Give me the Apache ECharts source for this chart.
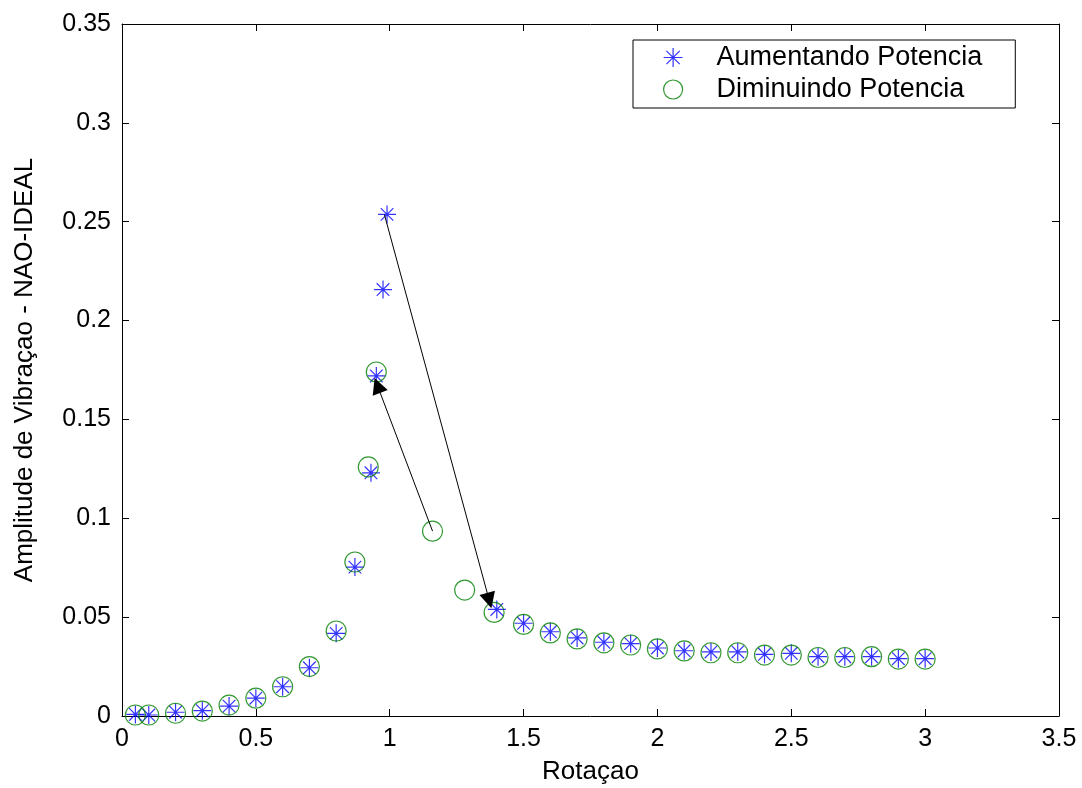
<!DOCTYPE html>
<html><head><meta charset="utf-8">
<script src="https://cdn.jsdelivr.net/npm/echarts@6/dist/echarts.min.js"></script>
<style>html,body{margin:0;padding:0;background:#fff}#c{width:1082px;height:788px}</style>
</head><body><div id="c"></div>
<script>
const xTitle = 'Rotaçao';
const yTitle = 'Amplitude de Vibraçao - NAO-IDEAL';
const seriesNames = ['Aumentando Potencia', 'Diminuindo Potencia'];

const upX = [0.05,0.1,0.2,0.3,0.4,0.5,0.6,0.7,0.8,0.87,0.93,0.95,0.975,0.99,1.4,1.5,1.6,1.7,1.8,1.9,2.0,2.1,2.2,2.3,2.4,2.5,2.6,2.7,2.8,2.9,3.0];
const upY = [0.0008,0.0005,0.0019,0.0027,0.005,0.009,0.0148,0.0244,0.0418,0.0753,0.123,0.172,0.2157,0.2537,0.0539,0.0469,0.0426,0.0395,0.0373,0.0366,0.0344,0.033,0.0324,0.0324,0.0312,0.0317,0.030,0.030,0.030,0.029,0.029];

const downX = [0.05,0.1,0.2,0.3,0.4,0.5,0.6,0.7,0.8,0.87,0.92,0.95,1.16,1.28,1.39,1.5,1.6,1.7,1.8,1.9,2.0,2.1,2.2,2.3,2.4,2.5,2.6,2.7,2.8,2.9,3.0];
const downY = [0.0005,0.0005,0.0014,0.0025,0.0055,0.009,0.0148,0.025,0.043,0.0779,0.126,0.174,0.0935,0.0637,0.0524,0.0463,0.042,0.039,0.037,0.0359,0.0339,0.0329,0.032,0.032,0.0308,0.0308,0.0296,0.0296,0.030,0.0288,0.0288];

// arrow start point and arrow-head centre, in data units
const arrows = [
  [[0.98,0.2537],[1.372,0.0584]],
  [[1.16,0.0935],[0.954,0.1672]]
];

const xMin = 0, xMax = 3.5, xStep = 0.5;
const yMin = 0, yMax = 0.35, yStep = 0.05;

const font = 'Liberation Sans, Arial, sans-serif';
const starPath = 'path://M0,-10L0,10M-10,0L10,0M-7,-7L7,7M-7,7L7,-7';

const chart = echarts.init(document.getElementById('c'));
function axisCommon() {
  return {
    axisLine: {show: true, onZero: false, lineStyle: {color: '#000', width: 1}},
    axisTick: {show: true, inside: true, length: 7, lineStyle: {color: '#000'}},
    splitLine: {show: false}
  };
}
chart.setOption({
  animation: false,
  backgroundColor: '#fff',
  grid: {left: 122, right: 23, top: 24, bottom: 72, containLabel: false, outerBoundsMode: 'none'},
  legend: {
    show: true, orient: 'vertical', left: 633, top: 40,
    backgroundColor: '#fff', borderColor: '#000', borderWidth: 1,
    padding: [4, 33, 5, 30], itemGap: 5, itemWidth: 21, itemHeight: 19,
    textStyle: {fontFamily: font, fontSize: 27, color: '#000', padding: [0,0,0,28]},
    data: [
      {name: seriesNames[0], icon: starPath, itemStyle: {color: 'rgba(0,0,0,0)', borderColor: '#0000ff', borderWidth: 1.2}},
      {name: seriesNames[1], icon: 'circle', itemStyle: {color: 'rgba(0,0,0,0)', borderColor: '#008000', borderWidth: 1.2}}
    ]
  },
  xAxis: [
    Object.assign({type: 'value', min: xMin, max: xMax, interval: xStep, position: 'bottom',
      name: xTitle, nameLocation: 'middle', nameGap: 43,
      nameTextStyle: {fontFamily: font, fontSize: 26, color: '#000'},
      axisLabel: {fontFamily: font, fontSize: 25, color: '#000', margin: 11}}, axisCommon()),
    Object.assign({type: 'value', min: xMin, max: xMax, interval: xStep, position: 'top',
      axisLabel: {show: false}}, axisCommon())
  ],
  yAxis: [
    Object.assign({type: 'value', min: yMin, max: yMax, interval: yStep, position: 'left',
      name: yTitle, nameLocation: 'middle', nameGap: 84, nameRotate: 90,
      nameTextStyle: {fontFamily: font, fontSize: 26, color: '#000'},
      axisLabel: {fontFamily: font, fontSize: 25, color: '#000', margin: 11}}, axisCommon()),
    Object.assign({type: 'value', min: yMin, max: yMax, interval: yStep, position: 'right',
      axisLabel: {show: false}}, axisCommon())
  ],
  series: [
    {
      name: seriesNames[0], type: 'scatter', symbol: starPath, symbolSize: 18,
      itemStyle: {color: 'rgba(0,0,0,0)', borderColor: '#0000ff', borderWidth: 1.2},
      data: upX.map((x, i) => [x, upY[i]]), z: 3
    },
    {
      name: seriesNames[1], type: 'scatter', symbol: 'circle', symbolSize: 20,
      itemStyle: {color: 'rgba(0,0,0,0)', borderColor: '#008000', borderWidth: 1.2},
      data: downX.map((x, i) => [x, downY[i]]), z: 4,
      markLine: {
        silent: true, symbol: ['none', 'triangle'], symbolSize: 16, precision: 4,
        itemStyle: {color: '#000'},
        lineStyle: {color: '#000', width: 1, type: 'solid'},
        label: {show: false}, animation: false,
        data: arrows.map(a => [{coord: a[0]}, {coord: a[1]}])
      }
    }
  ]
});
</script></body></html>
